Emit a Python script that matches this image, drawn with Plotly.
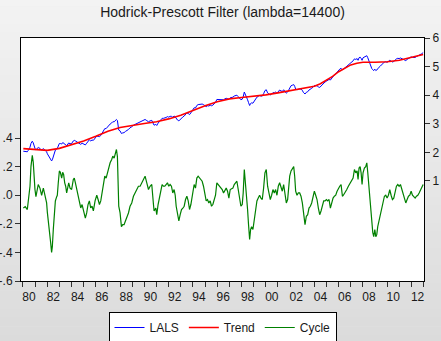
import plotly.graph_objects as go

# Observation dates (decimal years) shared by the log series and its cycle
obs = [
    1980.03, 1980.19, 1980.36, 1980.44, 1980.58, 1980.66, 1980.77, 1980.85, 1980.91, 1980.99,
    1981.07, 1981.13, 1981.26, 1981.40, 1981.54, 1981.68, 1981.81, 1981.90, 1981.95,
    1982.01, 1982.09, 1982.17, 1982.28, 1982.36, 1982.42, 1982.50, 1982.58, 1982.67, 1982.78, 1982.83, 1982.91,
    1983.00, 1983.08, 1983.19, 1983.27, 1983.35, 1983.44, 1983.52, 1983.60, 1983.68, 1983.77, 1983.88,
    1984.01, 1984.15, 1984.23, 1984.32, 1984.43, 1984.56, 1984.65, 1984.76, 1984.87, 1984.98,
    1985.06, 1985.14, 1985.25, 1985.36, 1985.47, 1985.58, 1985.69, 1985.80, 1985.94,
    1986.08, 1986.19, 1986.30, 1986.41, 1986.52, 1986.63, 1986.74, 1986.85, 1986.96,
    1987.07, 1987.18, 1987.31, 1987.40, 1987.51, 1987.62, 1987.70, 1987.78, 1987.83, 1987.89,
    1988.00, 1988.11, 1988.22, 1988.33, 1988.44, 1988.55, 1988.69, 1988.82, 1988.96,
    1989.10, 1989.24, 1989.37, 1989.51, 1989.65, 1989.79, 1989.92,
    1990.06, 1990.20, 1990.34, 1990.47, 1990.61, 1990.75, 1990.80, 1990.94,
    1991.02, 1991.13, 1991.24, 1991.35, 1991.46, 1991.57, 1991.68, 1991.79, 1991.90,
    1992.01, 1992.12, 1992.23, 1992.34, 1992.45, 1992.54, 1992.62, 1992.73, 1992.84, 1992.95,
    1993.06, 1993.17, 1993.28, 1993.39, 1993.50, 1993.61, 1993.72, 1993.83, 1993.94,
    1994.02, 1994.10, 1994.21, 1994.32, 1994.43, 1994.54, 1994.65, 1994.76, 1994.87, 1994.98,
    1995.09, 1995.20, 1995.31, 1995.42, 1995.53, 1995.64, 1995.75, 1995.86, 1995.97,
    1996.08, 1996.19, 1996.30, 1996.41, 1996.52, 1996.63, 1996.74, 1996.85, 1996.96,
    1997.07, 1997.18, 1997.29, 1997.40, 1997.51, 1997.62, 1997.73, 1997.84, 1997.95,
    1998.06, 1998.14, 1998.23, 1998.31, 1998.39, 1998.50, 1998.58, 1998.67, 1998.75, 1998.83, 1998.94,
    1999.05, 1999.16, 1999.27, 1999.38, 1999.49, 1999.60, 1999.71, 1999.82, 1999.93,
    2000.04, 2000.15, 2000.26, 2000.37, 2000.48, 2000.59, 2000.70, 2000.81, 2000.92,
    2001.03, 2001.14, 2001.25, 2001.36, 2001.47, 2001.58, 2001.69, 2001.80, 2001.91, 2001.97,
    2002.08, 2002.19, 2002.30, 2002.38, 2002.46, 2002.57, 2002.68, 2002.79, 2002.90,
    2003.01, 2003.09, 2003.18, 2003.23, 2003.34, 2003.45, 2003.56, 2003.67, 2003.78, 2003.89,
    2004.00, 2004.11, 2004.22, 2004.33, 2004.44, 2004.55, 2004.66, 2004.77, 2004.88, 2004.99,
    2005.10, 2005.21, 2005.32, 2005.43, 2005.54, 2005.65, 2005.76, 2005.87, 2005.98,
    2006.09, 2006.20, 2006.31, 2006.39, 2006.53, 2006.67, 2006.80, 2006.94,
    2007.08, 2007.19, 2007.30, 2007.41, 2007.52, 2007.60, 2007.68, 2007.77, 2007.85, 2007.93,
    2008.01, 2008.12, 2008.23, 2008.32, 2008.40, 2008.48, 2008.56, 2008.65, 2008.73, 2008.81, 2008.89, 2008.98,
    2009.06, 2009.14, 2009.22, 2009.33, 2009.44, 2009.55, 2009.66, 2009.77, 2009.88, 2009.99,
    2010.10, 2010.21, 2010.32, 2010.43, 2010.54, 2010.65, 2010.76, 2010.87, 2010.98,
    2011.09, 2011.20, 2011.31, 2011.42, 2011.53, 2011.64, 2011.75, 2011.86, 2011.97,
    2012.08, 2012.19, 2012.30, 2012.41, 2012.52, 2012.63, 2012.74, 2012.85, 2012.96,
]

# LALS (log level), right axis
lals = [
    2.04, 2.04, 2.02, 2.07, 2.18, 2.31, 2.39, 2.33, 2.23, 2.14,
    2.09, 2.11, 2.17, 2.14, 2.08, 2.13, 2.08, 2.04, 2.02,
    1.95, 1.88, 1.82, 1.76, 1.70, 1.74, 1.87, 1.96, 2.08, 2.12, 2.13, 2.22,
    2.31, 2.31, 2.29, 2.34, 2.33, 2.28, 2.27, 2.23, 2.29, 2.33, 2.30,
    2.31, 2.40, 2.42, 2.40, 2.37, 2.34, 2.30, 2.28, 2.32, 2.29,
    2.26, 2.26, 2.32, 2.39, 2.44, 2.40, 2.43, 2.42, 2.51,
    2.57, 2.56, 2.55, 2.59, 2.67, 2.76, 2.83, 2.83, 2.89,
    2.93, 2.99, 3.03, 3.07, 3.07, 3.13, 3.15, 3.11, 2.91, 2.78,
    2.75, 2.66, 2.68, 2.69, 2.73, 2.75, 2.80, 2.86, 2.89,
    2.95, 2.98, 3.01, 3.04, 3.05, 3.08, 3.13,
    3.15, 3.11, 3.07, 3.10, 3.12, 2.99, 2.95, 2.98,
    2.94, 3.02, 3.07, 3.13, 3.19, 3.19, 3.20, 3.22, 3.25,
    3.23, 3.26, 3.26, 3.23, 3.27, 3.24, 3.17, 3.13, 3.10, 3.16,
    3.21, 3.24, 3.27, 3.34, 3.38, 3.36, 3.32, 3.38, 3.45,
    3.54, 3.56, 3.55, 3.64, 3.67, 3.68, 3.68, 3.69, 3.67, 3.62,
    3.60, 3.63, 3.62, 3.65, 3.63, 3.65, 3.70, 3.75, 3.85,
    3.85, 3.85, 3.85, 3.85, 3.84, 3.87, 3.89, 3.88, 3.85,
    3.91, 3.92, 3.93, 3.97, 3.98, 4.00, 3.95, 3.89, 3.84,
    3.86, 3.94, 4.11, 4.04, 3.94, 3.84, 3.74, 3.64, 3.71, 3.73, 3.72,
    3.80, 3.87, 3.93, 3.96, 3.99, 3.97, 3.97, 4.05, 4.16,
    4.19, 4.08, 4.04, 4.01, 4.04, 4.09, 4.08, 4.11, 4.07,
    4.15, 4.18, 4.15, 4.13, 4.19, 4.11, 4.07, 4.11, 4.21, 4.28,
    4.33, 4.35, 4.37, 4.31, 4.21, 4.19, 4.21, 4.22, 4.21,
    4.17, 4.10, 4.06, 4.04, 4.10, 4.12, 4.18, 4.20, 4.24, 4.28,
    4.34, 4.33, 4.33, 4.29, 4.27, 4.32, 4.38, 4.43, 4.46, 4.49,
    4.51, 4.55, 4.53, 4.60, 4.66, 4.71, 4.75, 4.81, 4.86,
    4.91, 4.94, 4.89, 4.91, 4.96, 5.02, 5.08, 5.13,
    5.18, 5.20, 5.27, 5.25, 5.28, 5.22, 5.31, 5.33, 5.29, 5.22,
    5.31, 5.34, 5.35, 5.38, 5.31, 5.21, 5.12, 5.03, 4.93, 4.89, 4.86, 4.91,
    4.86, 4.88, 4.93, 4.98, 5.02, 5.08, 5.12, 5.16, 5.17, 5.15,
    5.18, 5.22, 5.19, 5.16, 5.18, 5.23, 5.27, 5.29, 5.28,
    5.30, 5.28, 5.26, 5.24, 5.21, 5.25, 5.28, 5.30, 5.34,
    5.32, 5.32, 5.32, 5.35, 5.37, 5.40, 5.43, 5.45, 5.49,
]

# Cyclical component, left axis
cycle = [
    -0.089, -0.080, -0.100, -0.050, 0.063, 0.200, 0.280, 0.230, 0.130, 0.040,
    -0.010, 0.016, 0.075, 0.050, 0.000, 0.050, 0.000, -0.030, -0.054,
    -0.120, -0.200, -0.260, -0.330, -0.400, -0.360, -0.240, -0.150, -0.040, -0.010, 0.000, 0.087,
    0.170, 0.160, 0.120, 0.160, 0.145, 0.087, 0.063, 0.016, 0.063, 0.087, 0.050,
    0.040, 0.110, 0.120, 0.087, 0.040, 0.000, -0.054, -0.089, -0.065, -0.110,
    -0.147, -0.160, -0.124, -0.065, -0.040, -0.089, -0.077, -0.110, -0.040,
    0.000, -0.030, -0.065, -0.040, 0.016, 0.087, 0.133, 0.120, 0.157,
    0.180, 0.227, 0.250, 0.274, 0.260, 0.310, 0.320, 0.270, 0.063, -0.077,
    -0.124, -0.220, -0.206, -0.206, -0.180, -0.160, -0.124, -0.077, -0.054,
    -0.007, 0.016, 0.040, 0.063, 0.063, 0.087, 0.120,
    0.133, 0.087, 0.040, 0.063, 0.075, -0.065, -0.110, -0.090,
    -0.136, -0.065, -0.020, 0.028, 0.075, 0.063, 0.063, 0.075, 0.087,
    0.063, 0.075, 0.063, 0.016, 0.040, 0.000, -0.077, -0.136, -0.180, -0.136,
    -0.100, -0.090, -0.077, -0.030, -0.007, -0.040, -0.100, -0.065, -0.007,
    0.063, 0.075, 0.050, 0.120, 0.133, 0.120, 0.110, 0.098, 0.063, -0.007,
    -0.040, -0.030, -0.054, -0.040, -0.077, -0.065, -0.040, 0.000, 0.087,
    0.075, 0.063, 0.050, 0.040, 0.016, 0.040, 0.050, 0.028, -0.020,
    0.040, 0.045, 0.050, 0.075, 0.087, 0.098, 0.040, -0.020, -0.077,
    -0.065, 0.016, 0.180, 0.110, 0.000, -0.100, -0.206, -0.310, -0.240, -0.220, -0.240,
    -0.160, -0.100, -0.040, -0.020, 0.000, -0.020, -0.030, 0.050, 0.157,
    0.180, 0.063, 0.016, -0.030, 0.000, 0.040, 0.016, 0.040, 0.000,
    0.063, 0.087, 0.050, 0.028, 0.075, -0.007, -0.054, -0.030, 0.063, 0.133,
    0.170, 0.190, 0.200, 0.133, 0.028, 0.000, 0.016, 0.016, -0.007,
    -0.054, -0.124, -0.180, -0.206, -0.147, -0.136, -0.090, -0.077, -0.054, -0.020,
    0.028, 0.000, -0.030, -0.090, -0.136, -0.110, -0.065, -0.040, -0.040, -0.030,
    -0.040, -0.030, -0.090, -0.054, -0.020, -0.007, 0.000, 0.028, 0.050,
    0.063, 0.075, -0.007, 0.000, 0.016, 0.040, 0.063, 0.087,
    0.110, 0.120, 0.180, 0.157, 0.170, 0.110, 0.190, 0.200, 0.157, 0.075,
    0.157, 0.190, 0.200, 0.227, 0.157, 0.063, -0.030, -0.124, -0.220, -0.260, -0.290, -0.240,
    -0.290, -0.276, -0.220, -0.180, -0.136, -0.077, -0.040, -0.007, 0.000, -0.020,
    0.000, 0.040, 0.000, -0.030, -0.020, 0.028, 0.063, 0.075, 0.063,
    0.075, 0.040, 0.016, -0.020, -0.054, -0.030, -0.007, 0.000, 0.028,
    0.000, -0.007, -0.020, -0.007, 0.000, 0.016, 0.040, 0.050, 0.075,
]

# Hodrick-Prescott trend, right axis
trend_obs = [
    1980.03, 1981.0, 1982.0, 1983.0, 1984.0, 1985.0, 1986.0, 1987.0, 1988.0, 1989.0,
    1990.0, 1991.0, 1992.0, 1993.0, 1994.0, 1995.0, 1996.0, 1997.0, 1998.0, 1999.0,
    2000.0, 2001.0, 2002.0, 2003.0, 2004.0, 2004.5, 2005.0, 2005.5, 2006.0, 2006.5,
    2007.0, 2007.5, 2008.0, 2009.0, 2010.0, 2011.0, 2012.0, 2012.96,
]
trend = [
    2.13, 2.10, 2.07, 2.14, 2.27, 2.40, 2.56, 2.74, 2.87, 2.95,
    3.01, 3.07, 3.17, 3.30, 3.47, 3.63, 3.77, 3.87, 3.92, 3.96,
    4.01, 4.08, 4.15, 4.22, 4.31, 4.40, 4.52, 4.66, 4.82, 4.95,
    5.06, 5.12, 5.15, 5.15, 5.17, 5.22, 5.31, 5.42,
]

assert len(obs) == len(lals) == len(cycle)
assert len(trend_obs) == len(trend)

# Axis annotations
label_years = list(range(1980, 2013, 2))
year_text = [f"{y % 100:02d}" for y in label_years]
cycle_ticks = [-0.6, -0.4, -0.2, 0.0, 0.2, 0.4]
cycle_text = ["-.6", "-.4", "-.2", ".0", ".2", ".4"]
level_ticks = [1, 2, 3, 4, 5, 6]

FONT = "Liberation Sans, Arial, sans-serif"
TXT = "#1a1a1a"
W, H = 441, 341
ML, MR, MT, MB = 21, 17, 38, 60
PW, PH = W - ML - MR, H - MT - MB

fig = go.Figure()
fig.add_trace(go.Scatter(x=obs, y=cycle, name="Cycle", yaxis="y", mode="lines",
                         line=dict(color="#008000", width=1.2), legendrank=3))
fig.add_trace(go.Scatter(x=obs, y=lals, name="LALS", yaxis="y2", mode="lines",
                         line=dict(color="#0000ff", width=1), legendrank=1))
fig.add_trace(go.Scatter(x=trend_obs, y=trend, name="Trend", yaxis="y2", mode="lines",
                         line=dict(color="#ff0000", width=1.6), legendrank=2))

# Vertical grey gradient behind the whole figure, white plotting area on top
shapes = []
n_strips = 40
x_left, x_right = -ML / PW - 0.01, 1 + MR / PW + 0.01
y_top, y_bottom = 1 + MT / PH + 0.01, -MB / PH - 0.01
for i in range(n_strips):
    f0 = i / n_strips
    f1 = (i + 1) / n_strips
    g = round(243 - (243 - 219) * (f0 + f1) / 2)
    shapes.append(dict(type="rect", xref="paper", yref="paper", layer="below",
                       x0=x_left, x1=x_right,
                       y0=y_top + (y_bottom - y_top) * f1 - 0.002,
                       y1=y_top + (y_bottom - y_top) * f0,
                       line=dict(width=0), fillcolor=f"rgb({g},{g},{g})"))
shapes.append(dict(type="rect", xref="paper", yref="paper", layer="below",
                   x0=0, x1=1, y0=0, y1=1, line=dict(width=0), fillcolor="white"))

axis_common = dict(showgrid=False, zeroline=False, automargin=False,
                   showline=True, linecolor="black", linewidth=1,
                   tickfont=dict(family=FONT, size=12, color=TXT))

fig.update_layout(
    template="none",
    width=W, height=H,
    margin=dict(l=ML, r=MR, t=MT, b=MB, autoexpand=False),
    paper_bgcolor="rgb(232,232,232)",
    plot_bgcolor="rgba(0,0,0,0)",
    shapes=shapes,
    font=dict(family=FONT, size=12, color=TXT),
    title=dict(text="Hodrick-Prescott Filter (lambda=14400)", x=0.5, xref="paper",
               y=1 - 12 / H, yref="container", yanchor="middle", xanchor="center",
               font=dict(family=FONT, size=14, color=TXT)),
    showlegend=True,
    legend=dict(orientation="h", x=0.5, xanchor="center", y=-31 / PH, yanchor="top",
                bgcolor="white", bordercolor="black", borderwidth=1,
                font=dict(family=FONT, size=12, color=TXT),
                itemwidth=30, tracegroupgap=0),
    xaxis=dict(range=[1979.84, 2013.03], mirror=True,
               tickvals=[y + 0.5 for y in label_years], ticktext=year_text,
               ticks="outside", ticklen=5, tickcolor="rgba(0,0,0,0)",
               minor=dict(ticks="outside", ticklen=5, tickcolor="#333333",
                          tick0=1980, dtick=1, showgrid=False),
               **axis_common),
    yaxis=dict(range=[-0.6, 1.1],
               tickvals=cycle_ticks, ticktext=cycle_text,
               ticks="outside", ticklen=5, tickcolor="#333333",
               **axis_common),
    yaxis2=dict(range=[-2.5, 6.0], overlaying="y", side="right",
                tickvals=level_ticks, ticks="outside", ticklen=5, tickcolor="#333333",
                **axis_common),
)

fig.write_html("out.html")
